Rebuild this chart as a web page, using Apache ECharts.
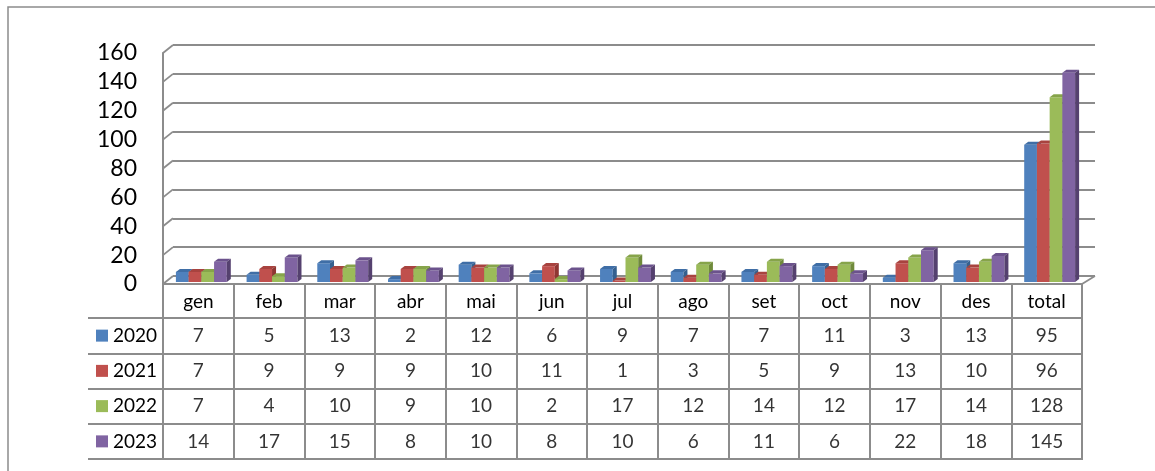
<!DOCTYPE html>
<html>
<head>
<meta charset="utf-8">
<title>chart</title>
<script src="https://cdn.jsdelivr.net/npm/echarts/dist/echarts.min.js"></script>
<style>
  html, body { margin: 0; padding: 0; background: #fff; }
  #main { width: 1155px; height: 471px; }
</style>
</head>
<body>
<div id="main"></div>
<script>
// data
var months = ['gen', 'feb', 'mar', 'abr', 'mai', 'jun', 'jul', 'ago', 'set', 'oct', 'nov', 'des', 'total'];
var years = ['2020', '2021', '2022', '2023'];
var values2020 = [7, 5, 13, 2, 12, 6, 9, 7, 7, 11, 3, 13, 95];
var values2021 = [7, 9, 9, 9, 10, 11, 1, 3, 5, 9, 13, 10, 96];
var values2022 = [7, 4, 10, 9, 10, 2, 17, 12, 14, 12, 17, 14, 128];
var values2023 = [14, 17, 15, 8, 10, 8, 10, 6, 11, 6, 22, 18, 145];
var yMin = 0, yMax = 160, yStep = 20;

var allValues = [values2020, values2021, values2022, values2023];
var colors = ['#4F81BD', '#C0504D', '#9BBB59', '#8064A2'];
var topColors = ['#3F6EA6', '#A8433F', '#86A44A', '#6B528C'];
var sideColors = ['#35608F', '#8F3633', '#6F8A3B', '#55416F'];
var lineGray = '#8c8c8c';

var chart = echarts.init(document.getElementById('main'));

// 3d-ish column: front face, top face, side face
function barRenderer(idx) {
	return function (params, api) {
		var c = api.value(0);
		var v = api.value(1);
		var base = api.coord([c, 0]);
		var top = api.coord([c, v]);
		var band = api.size([1, 0])[0];
		var bw = band * 0.18;
		var x0 = base[0] - 2 * bw + 3 + idx * bw;
		var x1 = x0 + bw;
		var yb = base[1] - 2;
		var yt = top[1] - 2;
		var dx = 4, dy = 3;
		return {
			type: 'group',
			children: [
				{type: 'rect', shape: {x: x0, y: yt, width: bw, height: yb - yt}, style: {fill: colors[idx]}},
				{type: 'polygon', shape: {points: [[x0, yt], [x1, yt], [x1 + dx, yt - dy], [x0 + dx, yt - dy]]}, style: {fill: topColors[idx]}},
				{type: 'polygon', shape: {points: [[x1, yt], [x1 + dx, yt - dy], [x1 + dx, yb - dy], [x1, yb]]}, style: {fill: sideColors[idx]}}
			]
		};
	};
}

// left wall and floor edges joining front axis to back wall
function wallRenderer(params, api) {
	var cs = params.coordSys;
	var p = api.coord([0, api.value(1)]);
	var kids = [
		{type: 'line', shape: {x1: cs.x, y1: p[1], x2: cs.x + 10, y2: p[1] - 8}, style: {stroke: lineGray, lineWidth: 1.8}}
	];
	if (api.value(1) === yMin) {
		kids.push({type: 'line', shape: {x1: cs.x + cs.width, y1: p[1], x2: cs.x + cs.width + 13, y2: p[1] - 8}, style: {stroke: lineGray, lineWidth: 1.8}});
	}
	return {type: 'group', children: kids};
}

var wallData = [];
for (var t = yMin; t <= yMax; t += yStep) {
	wallData.push([0, t]);
}

var series = [
	{
		type: 'custom',
		xAxisIndex: 0, yAxisIndex: 0,
		renderItem: wallRenderer,
		data: wallData,
		encode: {x: 0, y: 1},
		silent: true,
		z: 1
	}
];

allValues.forEach(function (arr, idx) {
	series.push({
		name: years[idx],
		type: 'custom',
		xAxisIndex: 0, yAxisIndex: 0,
		renderItem: barRenderer(idx),
		data: arr.map(function (v, i) { return [i, v]; }),
		encode: {x: 0, y: 1},
		silent: true,
		z: 3
	});
});

// table cell values
var cellData = [];
allValues.forEach(function (arr, r) {
	arr.forEach(function (v, c) {
		cellData.push([c, r, v]);
	});
});
series.push({
	type: 'scatter',
	xAxisIndex: 2, yAxisIndex: 2,
	data: cellData,
	symbolSize: 1,
	itemStyle: {color: 'rgba(0,0,0,0)'},
	label: {
		show: true,
		position: 'inside',
		color: '#000',
		fontSize: 19,
		formatter: function (p) { return p.value[2]; }
	},
	silent: true
});

var legendRich = {t: {fontSize: 19, color: '#000', padding: [0, 0, 0, 5]}};
colors.forEach(function (col, i) {
	legendRich['s' + i] = {width: 12, height: 12, backgroundColor: col};
});

var option = {
	animation: false,
	textStyle: {fontFamily: 'Lato'},
	graphic: [
		{type: 'rect', shape: {x: 8, y: 7, width: 1400, height: 700}, style: {fill: 'none', stroke: lineGray, lineWidth: 1.5}, silent: true}
	],
	grid: [
		{left: 163, right: 73, top: 53, bottom: 187},
		{left: 173, right: 60, top: 45, bottom: 195},
		{left: 163, right: 73, top: 318, bottom: 12, show: true, borderColor: lineGray, borderWidth: 2}
	],
	xAxis: [
		{
			gridIndex: 0, type: 'category', data: months,
			axisLine: {show: true, lineStyle: {color: lineGray, width: 2}},
			axisTick: {show: false}, axisLabel: {show: false}, splitLine: {show: false}
		},
		{gridIndex: 1, type: 'category', data: months, show: false},
		{
			gridIndex: 2, type: 'category', data: months, position: 'top',
			axisLine: {show: true, lineStyle: {color: lineGray, width: 2}},
			axisTick: {show: true, length: 34, interval: 0, lineStyle: {color: lineGray, width: 2}},
			axisLabel: {show: true, interval: 0, color: '#000', fontSize: 19, margin: 7},
			splitLine: {show: true, interval: 0, lineStyle: {color: lineGray, width: 2}}
		}
	],
	yAxis: [
		{
			gridIndex: 0, type: 'value', min: yMin, max: yMax, interval: yStep,
			axisLine: {show: true, lineStyle: {color: lineGray, width: 2}},
			axisTick: {show: false},
			axisLabel: {color: '#000', fontSize: 23, margin: 26},
			splitLine: {show: false}
		},
		{
			gridIndex: 1, type: 'value', min: yMin, max: yMax, interval: yStep,
			axisLine: {show: false}, axisTick: {show: false}, axisLabel: {show: false},
			splitLine: {show: true, lineStyle: {color: lineGray, width: 1.8}}
		},
		{
			gridIndex: 2, type: 'category', data: years, inverse: true,
			axisLine: {show: true, lineStyle: {color: lineGray, width: 2}},
			axisTick: {show: true, length: 75, interval: 0, lineStyle: {color: lineGray, width: 2}},
			axisLabel: {
				show: true, interval: 0, align: 'left', margin: 67,
				formatter: function (val, i) { return '{s' + i + '|}{t|' + val + '}'; },
				rich: legendRich
			},
			splitLine: {show: true, interval: 0, lineStyle: {color: lineGray, width: 2}}
		},
		{
			gridIndex: 2, type: 'category', data: years, inverse: true, offset: 75,
			axisLine: {show: true, lineStyle: {color: lineGray, width: 2}},
			axisTick: {show: false}, axisLabel: {show: false}, splitLine: {show: false}
		}
	],
	series: series
};

chart.setOption(option);
</script>
</body>
</html>
